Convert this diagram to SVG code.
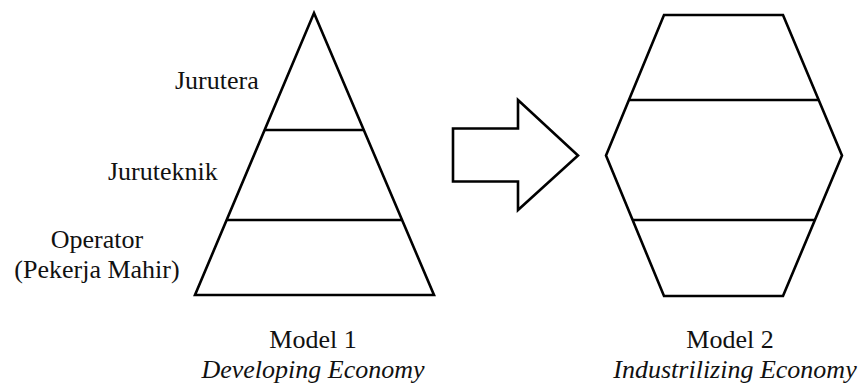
<svg xmlns="http://www.w3.org/2000/svg" width="861" height="385" viewBox="0 0 861 385">
<style>
.shape{fill:#fff;stroke:#000;stroke-width:2.6;stroke-linejoin:miter}
.div{stroke:#000;stroke-width:2.6;fill:none}
.lbl{font-family:"Liberation Serif","Times New Roman",serif;font-size:26px;fill:#111}
.it{font-style:italic}
</style>
<rect width="861" height="385" fill="#fff"/>
<g id="model1">
<polygon class="shape" points="314,13 434,295 195,295"/>
<line class="div" x1="265" y1="130" x2="364" y2="130"/>
<line class="div" x1="227" y1="220" x2="402" y2="220"/>
<text class="lbl" x="175" y="89">Jurutera</text>
<text class="lbl" x="108" y="180">Juruteknik</text>
<text class="lbl" x="97" y="248" text-anchor="middle">Operator</text>
<text class="lbl" x="97" y="278" text-anchor="middle">(Pekerja Mahir)</text>
<text class="lbl" x="313" y="348" text-anchor="middle">Model 1</text>
<text class="lbl it" x="313" y="378" text-anchor="middle">Developing Economy</text>
</g>
<g id="connectors">
<polygon class="shape" points="453,128.5 518,128.5 518,100 578,155.5 518,210 518,181.5 453,181.5"/>
</g>
<g id="model2">
<polygon class="shape" points="664,15 783,15 842,155.5 783,296 664,296 606,155.5"/>
<line class="div" x1="629" y1="100" x2="818" y2="100"/>
<line class="div" x1="633" y1="220" x2="815" y2="220"/>
<text class="lbl" x="730" y="348" text-anchor="middle">Model 2</text>
<text class="lbl it" x="735" y="378" text-anchor="middle">Industrilizing Economy</text>
</g>
</svg>
